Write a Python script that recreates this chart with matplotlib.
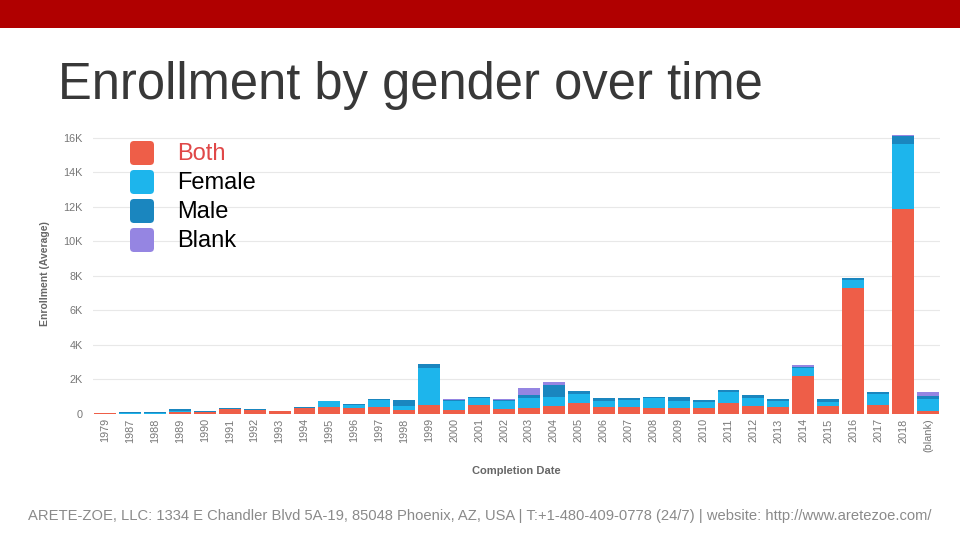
import numpy as np
import matplotlib
matplotlib.use("Agg")
import matplotlib.pyplot as plt
from matplotlib.patches import FancyBboxPatch, Rectangle
from matplotlib.ticker import FuncFormatter

plt.rcParams['font.family'] = ['Liberation Sans', 'DejaVu Sans']

years = ["1979", "1987", "1988", "1989", "1990", "1991", "1992", "1993", "1994",
         "1995", "1996", "1997", "1998", "1999", "2000", "2001", "2002", "2003",
         "2004", "2005", "2006", "2007", "2008", "2009", "2010", "2011", "2012",
         "2013", "2014", "2015", "2016", "2017", "2018", "(blank)"]

# average enrollment, stacked bottom -> top
both   = [50, 0, 0, 100, 100, 240, 220, 140, 300, 380, 300, 400, 200, 490, 200, 490, 240, 340,
          450, 590, 400, 360, 300, 300, 300, 590, 430, 360, 2160, 430, 7290, 490, 11840, 160]
female = [0, 10, 10, 30, 0, 0, 0, 0, 0, 320, 190, 380, 250, 2160, 520, 400, 500, 540,
          520, 560, 340, 420, 580, 440, 370, 640, 450, 380, 480, 260, 450, 620, 3780, 680]
male   = [0, 50, 50, 110, 60, 60, 20, 20, 60, 30, 40, 80, 350, 220, 50, 60, 30, 190,
          680, 170, 180, 120, 80, 220, 100, 130, 210, 100, 30, 170, 110, 150, 470, 190]
blank  = [0, 0, 0, 0, 0, 0, 0, 0, 0, 0, 0, 0, 0, 0, 70, 0, 70, 390,
          190, 0, 0, 0, 0, 0, 0, 0, 0, 0, 160, 0, 0, 0, 50, 230]

series = ["Both", "Female", "Male", "Blank"]
colors = ["#EE5E48", "#1DB5EC", "#1A86BF", "#9585E2"]

fig = plt.figure(figsize=(9.6, 5.4), dpi=100)

ax = fig.add_axes([92.5 / 960, 126.5 / 540, 848 / 960, 279.4 / 540])
x = np.arange(len(years))
bottom = np.zeros(len(years))
for name, vals, c in zip(series, [both, female, male, blank], colors):
    v = np.array(vals, dtype=float)
    ax.bar(x, v, bottom=bottom, width=0.88, color=c, label=name, zorder=2)
    bottom += v

ax.set_xlim(-0.5, len(years) - 0.5)
ax.set_ylim(0, 16200)
ax.set_yticks(np.arange(0, 16001, 2000))
ax.yaxis.set_major_formatter(FuncFormatter(lambda v, p: "0" if v == 0 else f"{int(v/1000)}K"))
ax.set_xticks(x)
ax.set_xticklabels(years, rotation=90)
ax.tick_params(axis="both", length=0, colors="#777777", labelsize=7.8)
ax.tick_params(axis="y", pad=7)
ax.grid(axis="y", color="#e8e8e8", lw=0.8, zorder=0)
for s in ax.spines.values():
    s.set_visible(False)
ax.set_xlabel("Completion Date", fontsize=8, fontweight="bold", color="#666666", labelpad=10)
ax.set_ylabel("Enrollment (Average)", fontsize=7.5, fontweight="bold", color="#666666", labelpad=10)

# slide decoration layer in pixel coordinates, on top
deco = fig.add_axes([0, 0, 1, 1])
deco.set_xlim(0, 960)
deco.set_ylim(540, 0)
deco.axis("off")
deco.patch.set_alpha(0)
deco.add_patch(Rectangle((0, 0), 960, 28, color="#B00000", lw=0))
deco.text(58, 85, "Enrollment by gender over time", fontsize=36.5, color="#383838",
          va="center", ha="left")
deco.text(480, 516, "ARETE-ZOE, LLC: 1334 E Chandler Blvd 5A-19, 85048 Phoenix, AZ, USA | "
          "T:+1-480-409-0778 (24/7) | website: http://www.aretezoe.com/",
          fontsize=10.65, color="#8a8a8a", ha="center", va="center")

# legend
text_colors = ["#E04848", "black", "black", "black"]
for i, (name, c, tc) in enumerate(zip(series, colors, text_colors)):
    cy = 153 + i * 29
    deco.add_patch(FancyBboxPatch((133, cy - 9), 18, 18, boxstyle="round,pad=3,rounding_size=4",
                                  color=c, lw=0))
    deco.text(177, cy + 1, name, fontsize=17, color=tc, va="center", ha="left")

fig.savefig("out.png", dpi=100)
